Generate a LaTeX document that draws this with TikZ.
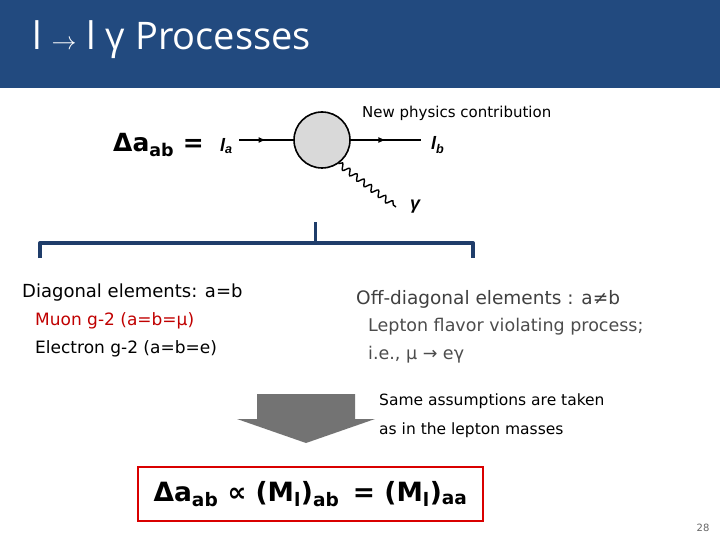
\documentclass[tikz,border=0pt]{standalone}
\usepackage{fontspec}
\setmainfont{DejaVu Sans}
\newfontfamily\titlefont{Open Sans}
\newfontfamily\lfont{Liberation Sans}
\usetikzlibrary{decorations.pathmorphing,decorations.markings}
\definecolor{hdr}{HTML}{224A7F}
\definecolor{brc}{HTML}{1F3D6A}
\definecolor{dred}{HTML}{C00000}
\begin{document}
\begin{tikzpicture}[x=1pt,y=-1pt,
  txt/.style={anchor=west,inner sep=0pt},
  fline/.style={line width=1.6pt,postaction={decorate},decoration={markings,mark=at position 0.5 with {\arrow{latex}}}}]
\useasboundingbox (0,0) rectangle (720,540);
\fill[hdr] (0,0) rectangle (720,88);
\node[txt,text=white,font=\titlefont\fontsize{38}{42}\selectfont] (title) at (32,40) {l $\rightarrow$ l γ Processes};
% diagram
\node[txt,font=\fontsize{25}{28}\selectfont\bfseries] (eq) at (113,145) {Δa\textsubscript{ab} =};
\node[txt,font=\lfont\itshape\bfseries\fontsize{18}{20}\selectfont] (la) at (220,146) {l\textsubscript{a}};
\node[draw,line width=1.6pt,circle,fill=black!15,minimum size=56pt] (blob) at (322,140) {};
\node[txt,font=\lfont\itshape\bfseries\fontsize{18}{20}\selectfont] (lb) at (431,145) {l\textsubscript{b}};
\node[txt,font=\lfont\itshape\bfseries\fontsize{18}{20}\selectfont] (gam) at (410,207) {γ};
\coordinate (lbe) at (421,140);
\coordinate (gme) at (396,207);
\coordinate (lae) at (239,140);
\draw[fline] (lae) -- (blob.west);
\draw[fline] (blob.east) -- (lbe);
\draw[line width=1.4pt,decorate,decoration={snake,amplitude=3pt,segment length=9pt}] (blob.-55) -- (gme);
\node[txt,font=\fontsize{15}{17}\selectfont] (np) at (362,113) {New physics contribution};
% bracket
\coordinate (b1) at (40,258); \coordinate (b2) at (40,243); \coordinate (b3) at (473,243); \coordinate (b4) at (473,258);
\coordinate (bm) at (315,243); \coordinate (bt) at (315,222);
\draw[brc,line width=4pt,line join=round] (b1) -- (b2) -- (b3) -- (b4);
\draw[brc,line width=3pt] (bm) -- (bt);
% left texts
\node[txt,font=\fontsize{18}{20}\selectfont] (dg) at (22,293) {Diagonal elements: a=b};
\node[txt,text=dred,font=\fontsize{17}{20}\selectfont] (mu) at (35,321) {Muon g-2 (a=b=μ)};
\node[txt,font=\fontsize{17}{20}\selectfont] (el) at (35,349) {Electron g-2 (a=b=e)};
% right texts
\node[txt,text=black!75,font=\fontsize{18.5}{20}\selectfont] (od) at (356,299) {Off-diagonal elements : a≠b};
\node[txt,text=black!70,font=\fontsize{17.5}{20}\selectfont] (lf) at (368,327) {Lepton flavor violating process;};
\node[txt,text=black!70,font=\fontsize{17.5}{20}\selectfont] (ie) at (368,355) {i.e., μ → eγ};
\node[txt,font=\fontsize{15.5}{18}\selectfont] (sa) at (379,401) {Same assumptions are taken};
\node[txt,font=\fontsize{15.5}{18}\selectfont] (sb) at (379,430) {as in the lepton masses};
% big arrow
\fill[black!55] (257,394) -- (355,394) -- (355,419) -- (375,419) -- (306,443) -- (237,419) -- (257,419) -- cycle;
% result box
\node[draw=red!85!black,line width=2pt,minimum width=345pt,minimum height=54pt,font=\fontsize{26.5}{30}\selectfont\bfseries] (res) at (310.5,494) {Δa\textsubscript{ab} ∝ (M\textsubscript{l})\textsubscript{ab} \,= (M\textsubscript{l})\textsubscript{aa}};
\node[font=\fontsize{10}{12}\selectfont,text=black!60] (pg) at (703,528) {28};
\end{tikzpicture}
\end{document}
